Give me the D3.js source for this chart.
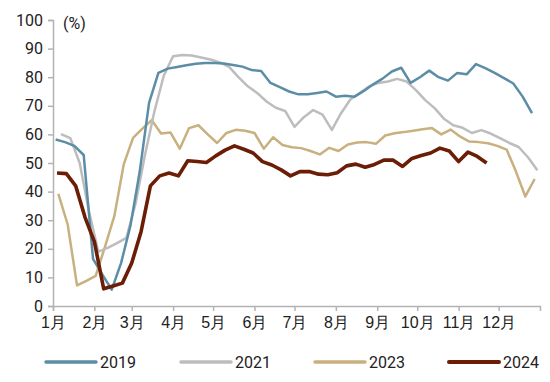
<!DOCTYPE html>
<html>
<head>
<meta charset="utf-8">
<script src="https://cdn.jsdelivr.net/npm/d3@7"></script>
<style>
  html, body { margin: 0; padding: 0; background: #fff; }
  svg { display: block; font-family: Roboto, "Noto Sans CJK SC", sans-serif; }
</style>
</head>
<body>
<svg id="chart" width="550" height="382"></svg>
<script>
// ---- data ----
const years = ["2019", "2021", "2023", "2024"];
const colors = ["#5b8ea6", "#bdbdbd", "#c8b07f", "#6b1d06"];
// day-of-year (0-based) of the first weekly observation in each year
const firstDay = [2, 6, 4, 3];
const values2019 = [58.2, 57.3, 56, 52.8, 16.5, 11, 5.7, 15, 28, 47, 71, 81.5, 83, 83.6, 84.2, 84.7, 85, 85, 84.8, 84.3,
  83.7, 82.5, 82.2, 78, 76.5, 75, 74, 74, 74.5, 75, 73.2, 73.5, 73.2, 75.2, 77.5, 79.5, 82, 83.3, 78, 80,
  82.3, 80, 78.8, 81.5, 81, 84.6, 83.2, 81.5, 79.7, 77.8, 73.2, 67.4];
const values2021 = [60.1, 58.7, 50, 33, 19, 20.3, 22, 23.8, 36, 53, 68, 80.5, 87.3, 87.8, 87.6, 86.9, 86.2, 85.2, 83.6, 80,
  76.8, 74.5, 71.5, 69.3, 68.2, 62.6, 66, 68.5, 66.9, 61.6, 67.5, 72.3, 74.5, 76.8, 78, 78.5, 79.4, 78.5, 75.5, 72,
  69.2, 65.5, 63.2, 62.3, 60.5, 61.5, 60.3, 58.7, 57, 55.6, 52, 47.5];
const values2023 = [39.2, 28.5, 7.2, 8.8, 10.5, 20.8, 31.5, 49.5, 58.8, 62, 65, 60.3, 60.7, 55, 62.2, 63.2, 60, 57, 60.5, 61.6,
  61.3, 60.5, 55, 59, 56.3, 55.5, 55.2, 54.2, 53, 55.3, 54.2, 56.5, 57.2, 57.3, 56.7, 59.6, 60.4, 60.8, 61.3, 61.8,
  62.2, 60, 61.7, 59.3, 57.5, 57.3, 56.9, 56, 54.7, 47, 38.3, 44.4];
const values2024 = [46.5, 46.3, 42, 31, 22.5, 6, 7, 8, 15, 26, 42, 45.5, 46.5, 45.5, 50.8, 50.5, 50.2, 52.5, 54.5, 56,
  54.8, 53.5, 50.5, 49.3, 47.6, 45.5, 47, 47, 46.1, 45.9, 46.6, 49, 49.6, 48.5, 49.5, 51, 51, 48.8, 51.6, 52.6,
  53.5, 55.2, 54.2, 50.5, 53.8, 52.3, 50];
const seriesValues = [values2019, values2021, values2023, values2024];
const monthLabels = ["1月","2月","3月","4月","5月","6月","7月","8月","9月","10月","11月","12月"];
const yTicks = [0, 10, 20, 30, 40, 50, 60, 70, 80, 90, 100];
const unitLabel = "(%)";

// ---- layout ----
const svg = d3.select("#chart");
const plotLeft = 53, plotRight = 540, plotTop = 20, plotBottom = 306;
const refYear = 2019;
const x = d3.scaleTime()
  .domain([new Date(refYear, 0, 1), new Date(refYear + 1, 0, 1)])
  .range([plotLeft, plotRight]);
const y = d3.scaleLinear().domain([0, 100]).range([plotBottom, plotTop]);
const axisColor = "#b3b3b3";
const textColor = "#222";

// y axis
const yAxis = svg.append("g")
  .attr("transform", `translate(${plotLeft},0)`)
  .call(d3.axisLeft(y).tickValues(yTicks).tickSize(5).tickPadding(5).tickFormat(d3.format("d")));
yAxis.select(".domain").attr("stroke", axisColor).attr("stroke-width", 1.5);
yAxis.selectAll(".tick line").attr("stroke", axisColor).attr("stroke-width", 1.5);
yAxis.selectAll(".tick text").attr("fill", textColor).style("font-size", "16px")
  .style("font-family", "Roboto, sans-serif");

// x axis
const monthDates = monthLabels.map((_, i) => new Date(refYear, i, 1));
const xAxis = svg.append("g")
  .attr("transform", `translate(0,${plotBottom})`)
  .call(d3.axisBottom(x).tickValues(monthDates).tickSize(5).tickPadding(6)
    .tickFormat((d, i) => monthLabels[i]));
xAxis.select(".domain").attr("stroke", axisColor).attr("stroke-width", 1.5);
xAxis.selectAll(".tick line").attr("stroke", axisColor).attr("stroke-width", 1.5);
xAxis.selectAll(".tick text").attr("fill", textColor).style("font-size", "16px");

// unit label
svg.append("text").attr("x", 63).attr("y", 29).attr("fill", textColor)
  .style("font-size", "16px").style("font-family", "Roboto, sans-serif").text(unitLabel);

// lines
const widths = [2.5, 2.5, 2.5, 3.6];
const drawOrder = [2, 1, 0, 3];
drawOrder.forEach(s => {
  const pts = seriesValues[s].map((v, i) => ({ date: new Date(refYear, 0, 1 + firstDay[s] + 7 * i), v }));
  const line = d3.line().x(d => x(d.date)).y(d => y(d.v));
  svg.append("path").datum(pts)
    .attr("d", line)
    .attr("fill", "none")
    .attr("stroke", colors[s])
    .attr("stroke-width", widths[s])
    .attr("stroke-linejoin", "round")
    .attr("stroke-linecap", "butt");
});

// legend
const legendX = [46, 181, 315, 449];
const legY = 362;
years.forEach((yr, s) => {
  const g = svg.append("g").attr("transform", `translate(${legendX[s]},${legY})`);
  g.append("line").attr("x1", 0).attr("x2", 50).attr("y1", 0).attr("y2", 0)
    .attr("stroke", colors[s]).attr("stroke-width", s === 3 ? 4 : 3.5).attr("stroke-linecap", "round");
  g.append("text").attr("x", 54).attr("y", 0).attr("dy", "0.35em").attr("fill", textColor)
    .style("font-size", "16px").style("font-family", "Roboto, sans-serif").text(yr);
});
</script>
</body>
</html>
